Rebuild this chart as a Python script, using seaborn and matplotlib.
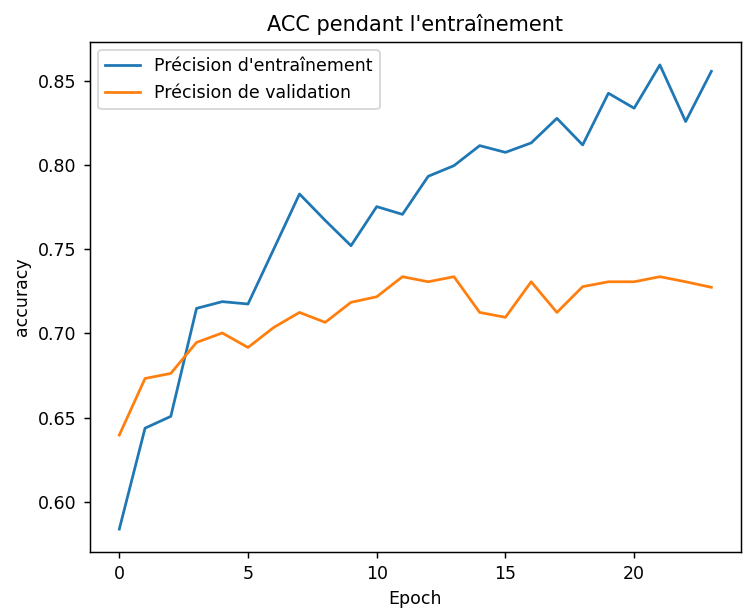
import matplotlib
matplotlib.use("Agg")
import matplotlib.pyplot as plt
import seaborn as sns
import pandas as pd

epochs = list(range(24))
train_acc = [0.5838, 0.6437, 0.6507, 0.7148, 0.7188, 0.7174, 0.7500, 0.7827,
             0.7670, 0.7520, 0.7752, 0.7706, 0.7932, 0.7995, 0.8114, 0.8074,
             0.8130, 0.8276, 0.8118, 0.8425, 0.8336, 0.8593, 0.8257, 0.8555]
val_acc = [0.6396, 0.6732, 0.6762, 0.6946, 0.7002, 0.6916, 0.7035, 0.7124,
           0.7065, 0.7184, 0.7217, 0.7336, 0.7306, 0.7336, 0.7124, 0.7095,
           0.7306, 0.7124, 0.7277, 0.7306, 0.7306, 0.7336, 0.7306, 0.7273]
labels = ["Précision d'entraînement", "Précision de validation"]
colors = ["#1f77b4", "#ff7f0e"]

plt.rcParams["font.size"] = 9.5

dpi = 132
fig, ax = plt.subplots(figsize=(745 / dpi, 608 / dpi), dpi=dpi)
fig.subplots_adjust(left=0.1204, right=0.9946, top=0.9314, bottom=0.0916)

df_train = pd.DataFrame({"Epoch": epochs, "accuracy": train_acc})
df_val = pd.DataFrame({"Epoch": epochs, "accuracy": val_acc})
sns.lineplot(data=df_train, x="Epoch", y="accuracy", ax=ax, color=colors[0], label=labels[0])
sns.lineplot(data=df_val, x="Epoch", y="accuracy", ax=ax, color=colors[1], label=labels[1])

ax.set_title("ACC pendant l'entraînement")
ax.set_xlabel("Epoch")
ax.set_ylabel("accuracy")
ax.set_xticks([0, 5, 10, 15, 20])
ax.legend(loc="upper left")

fig.savefig("out.png", dpi=dpi)
